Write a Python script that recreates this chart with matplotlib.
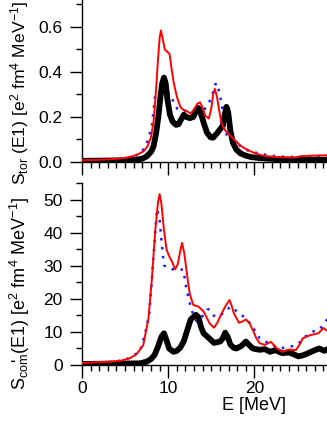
import matplotlib
matplotlib.use("Agg")
import matplotlib.pyplot as plt
from matplotlib.ticker import MultipleLocator

plt.rcParams['font.family'] = ['Liberation Sans', 'DejaVu Sans']
plt.rcParams['mathtext.default'] = 'regular'

# ---- top panel: S_tor(E1) ----
e_tor_black = [0, 2, 4, 5.2, 6.3, 7.0, 7.5, 8.0, 8.3, 8.6, 8.85, 9.1, 9.3, 9.5, 9.7, 9.9,
               10.2, 10.5, 10.9, 11.2, 11.5, 11.8, 12.1, 12.5, 12.9, 13.2, 13.5, 13.8, 14.1,
               14.5, 14.9, 15.2, 15.6, 16.0, 16.3, 16.55, 16.75, 16.95, 17.2, 17.5, 17.9,
               18.4, 19.0, 19.6, 20.5, 21.5, 23, 24.6, 26, 28.5]
s_tor_black = [0.005, 0.006, 0.007, 0.008, 0.01, 0.015, 0.025, 0.045, 0.07, 0.13, 0.2, 0.29,
               0.35, 0.375, 0.35, 0.28, 0.21, 0.18, 0.165, 0.168, 0.19, 0.21, 0.2, 0.195, 0.2,
               0.225, 0.24, 0.215, 0.175, 0.13, 0.11, 0.108, 0.125, 0.145, 0.16, 0.21, 0.245,
               0.22, 0.14, 0.085, 0.055, 0.038, 0.028, 0.022, 0.018, 0.015, 0.012, 0.01, 0.01, 0.01]

e_tor_red = [0, 2, 4, 5.2, 6.0, 6.7, 7.2, 7.6, 8.0, 8.3, 8.55, 8.8, 9.0, 9.15, 9.35, 9.6, 9.9,
             10.15, 10.4, 10.65, 11.0, 11.4, 11.8, 12.2, 12.6, 13.0, 13.4, 13.7, 14.0, 14.3,
             14.7, 15.0, 15.2, 15.4, 15.65, 15.9, 16.2, 16.6, 17.0, 17.7, 18.3, 18.9, 19.5,
             20.0, 20.8, 21.5, 23, 24.6, 25.5, 26.5, 28.5]
s_tor_red = [0.008, 0.01, 0.014, 0.02, 0.027, 0.038, 0.05, 0.07, 0.11, 0.18, 0.3, 0.45, 0.55,
             0.585, 0.55, 0.5, 0.49, 0.48, 0.41, 0.35, 0.29, 0.245, 0.23, 0.225, 0.215, 0.235,
             0.26, 0.265, 0.24, 0.205, 0.193, 0.24, 0.3, 0.325, 0.29, 0.23, 0.17, 0.14, 0.125,
             0.098, 0.075, 0.06, 0.048, 0.04, 0.03, 0.025, 0.021, 0.02, 0.026, 0.028, 0.03]

e_tor_blue = [0, 3, 5, 6.0, 6.9, 7.4, 7.8, 8.1, 8.3, 8.5, 8.7, 9.0, 9.5, 10.0, 10.4, 10.6, 11.1,
              11.75, 12.3, 12.7, 13.2, 13.5, 13.9, 14.3, 14.8, 15.2, 15.45, 15.7, 15.9, 16.2,
              16.5, 16.8, 17.2, 17.8, 18.4, 19.3, 20.3, 21.5, 23, 24.6, 26, 28.5]
s_tor_blue = [0.005, 0.008, 0.012, 0.022, 0.044, 0.07, 0.12, 0.16, 0.23, 0.3, 0.31, 0.305, 0.3,
              0.3, 0.3, 0.26, 0.235, 0.23, 0.225, 0.23, 0.21, 0.2, 0.21, 0.24, 0.27, 0.31, 0.345,
              0.35, 0.31, 0.26, 0.17, 0.115, 0.105, 0.09, 0.07, 0.05, 0.04, 0.03, 0.024, 0.022,
              0.025, 0.028]

# ---- bottom panel: S_com'(E1) ----
e_com_black = [0, 3, 5, 6.7, 7.5, 8.0, 8.4, 8.8, 9.2, 9.5, 9.8, 10.1, 10.6, 11.0, 11.4, 11.8,
               12.2, 12.6, 13.2, 13.5, 13.8, 14.1, 14.7, 15.3, 16.0, 16.3, 16.6, 16.9, 17.2,
               17.6, 17.9, 18.5, 19.0, 19.4, 19.8, 20.2, 20.6, 21.2, 21.8, 22.4, 23.2, 24.0,
               24.5, 25.1, 25.7, 26.4, 27.0, 27.5, 28.1, 28.6]
s_com_black = [0.3, 0.4, 0.45, 0.5, 1.0, 1.8, 3.0, 5.5, 8.5, 9.6, 7.5, 5.0, 4.0, 4.3, 5.3, 7.2,
               10.5, 13.8, 15.2, 14.5, 11.5, 9.6, 8.2, 6.7, 7.1, 8.0, 9.8, 8.5, 6.2, 5.2, 5.0,
               5.8, 7.1, 6.0, 5.0, 4.8, 4.6, 4.8, 4.0, 4.5, 3.6, 3.8, 3.3, 2.6, 3.0, 3.8, 4.5,
               5.0, 4.3, 5.0]

e_com_red = [0, 1.5, 3.25, 4.5, 5.5, 6.3, 7.1, 7.7, 8.1, 8.5, 8.8, 9.0, 9.2, 9.5, 9.8, 10.1,
             10.4, 10.8, 11.1, 11.35, 11.6, 11.85, 12.05, 12.3, 12.5, 12.9, 13.5, 14.1, 14.8,
             15.3, 15.7, 16.0, 16.6, 17.1, 17.35, 17.6, 18.2, 18.6, 19.0, 19.4, 19.8, 20.2,
             20.6, 21.2, 21.9, 22.6, 23.2, 24.0, 24.8, 25.3, 25.6, 26.4, 27.4, 28.0, 28.6]
s_com_red = [0.6, 0.8, 1.0, 1.3, 2.0, 3.2, 6.0, 14, 26, 41, 49, 51.8, 49, 41, 35, 33, 31.5, 29,
             30.5, 34, 37, 34, 30, 25, 21.5, 18.2, 17.7, 16.2, 12.6, 11.3, 12.8, 14.6, 17.7,
             19.7, 18.0, 15.7, 12.8, 13.2, 13.8, 12.8, 10.6, 8.2, 6.6, 6.1, 7.0, 5.0, 4.0, 4.7,
             4.5, 6.5, 8.1, 9.0, 9.6, 11.2, 10.0]

e_com_blue = [0, 1.3, 3, 5, 6.7, 7.3, 7.8, 8.1, 8.4, 8.7, 9.0, 9.2, 9.5, 9.8, 10.5, 11.4, 11.75,
              12.1, 12.5, 12.9, 13.3, 13.9, 14.5, 14.7, 15.4, 16.4, 17.2, 18.2, 19.2, 20.0,
              20.6, 21.6, 22.9, 24.0, 24.9, 25.9, 26.7, 27.5, 28.5]
s_com_blue = [0.3, 0.5, 0.8, 1.5, 4, 9.3, 15.4, 26, 37, 47.3, 44, 38, 30.3, 29.5, 29, 29, 28.8,
              23.2, 18.7, 15.2, 13.2, 14.6, 16.7, 16.9, 14.6, 15.6, 17.7, 15.8, 13.6, 10.6,
              8.1, 6.6, 5.0, 5.5, 6.0, 8.6, 10.1, 10.6, 14.1]

x_major_ticks = [0, 10, 20]
x_tick_labels = ['0', '10', '20']

W, H = 327, 423
fig = plt.figure(figsize=(W / 100, H / 100), dpi=100)

left = 82 / W
width = 345 / W  # axis extends to 40 MeV, cropped by figure edge
ax1 = fig.add_axes([left, 1 - 162 / H, width, 162 / H])
ax2 = fig.add_axes([left, 1 - 365 / H, width, 182 / H])

blue = '#1a1aff'
for ax, (eb, sb), (er, sr), (eu, su) in [
        (ax1, (e_tor_black, s_tor_black), (e_tor_red, s_tor_red), (e_tor_blue, s_tor_blue)),
        (ax2, (e_com_black, s_com_black), (e_com_red, s_com_red), (e_com_blue, s_com_blue))]:
    ax.plot(eu, su, color=blue, lw=1.8, linestyle=(0, (1, 2.6)), zorder=2)
    ax.plot(eb, sb, color='black', lw=4.2, solid_joinstyle='round', solid_capstyle='round', zorder=3)
    ax.plot(er, sr, color='#ff0000', lw=1.4, zorder=4)
    ax.set_xlim(0, 40)
    ax.spines['top'].set_visible(False)
    ax.spines['right'].set_visible(False)
    for s in ('left', 'bottom'):
        ax.spines[s].set_linewidth(1.0)
    ax.set_xticks(x_major_ticks)
    ax.xaxis.set_minor_locator(MultipleLocator(1))
    ax.tick_params(which='major', direction='out', length=9, width=1.0, labelsize=12.5, pad=2.5)
    ax.tick_params(which='minor', direction='out', length=4.5, width=1.0)
    ax.tick_params(axis='y', which='major', pad=5)
    ax.patch.set_alpha(0)

ax1.set_ylim(0, 0.72)
ax1.set_yticks([0, 0.2, 0.4, 0.6])
ax1.set_yticklabels(['0.0', '0.2', '0.4', '0.6'])
ax1.yaxis.set_minor_locator(MultipleLocator(0.1))
ax1.tick_params(axis='x', which='major', labelbottom=False)

ax2.set_ylim(0, 55.15)
ax2.set_yticks([0, 10, 20, 30, 40, 50])
ax2.yaxis.set_minor_locator(MultipleLocator(5))
ax2.set_xticklabels(x_tick_labels)
ax2.set_xlabel('E [MeV]', fontsize=13, labelpad=1)

fig.text(20 / W, 1 - 1 / H, r'$S_{tor}$ (E1) [e$^2$ fm$^4$ MeV$^{-1}$]',
         rotation=90, ha='center', va='top', fontsize=12.6)
fig.text(20 / W, 1 - 390 / H, r"$S_{com}\!\!\!$' (E1) [e$^2$ fm$^4$ MeV$^{-1}$]",
         rotation=90, ha='center', va='bottom', fontsize=13)

fig.savefig('out.png', dpi=100)
